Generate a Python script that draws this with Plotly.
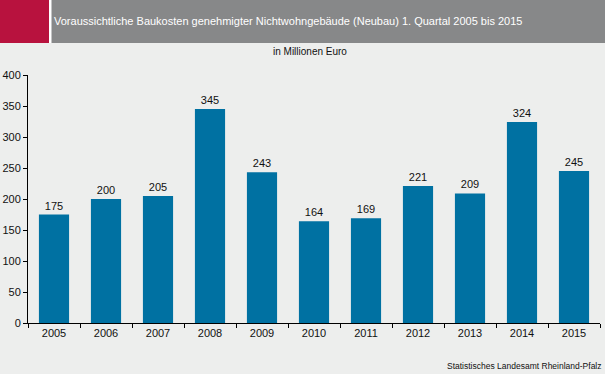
import plotly.graph_objects as go

years = ["2005", "2006", "2007", "2008", "2009", "2010", "2011", "2012", "2013", "2014", "2015"]
values = [175, 200, 205, 345, 243, 164, 169, 221, 209, 324, 245]
y_ticks = [0, 50, 100, 150, 200, 250, 300, 350, 400]

W, H = 605, 374
L, R, T, B = 28, 5, 75, 51
PW = W - L - R
PH = H - T - B


def px(x):
    return (x - L) / PW


def py(y):
    return (H - B - y) / PH


FONT = "Liberation Sans, Arial, sans-serif"
BG = "#EDEEED"

fig = go.Figure(
    go.Bar(
        x=years,
        y=values,
        marker=dict(color="#0071A2", line=dict(width=0)),
        width=0.58,
        text=[str(v) for v in values],
        textposition="outside",
        textfont=dict(family=FONT, size=11, color="#111111"),
        cliponaxis=False,
        hoverinfo="x+y",
    )
)

shapes = [
    dict(type="rect", xref="paper", yref="paper", x0=px(0), x1=px(W), y0=py(43), y1=py(0),
         fillcolor="#FFFFFF", line=dict(width=0), layer="below"),
    dict(type="rect", xref="paper", yref="paper", x0=px(0), x1=px(49), y0=py(43), y1=py(0),
         fillcolor="#B8123E", line=dict(width=0), layer="below"),
    dict(type="rect", xref="paper", yref="paper", x0=px(51.5), x1=px(W), y0=py(43), y1=py(0),
         fillcolor="#878889", line=dict(width=0), layer="below"),
]

annotations = [
    dict(text="Voraussichtliche Baukosten genehmigter Nichtwohngebäude (Neubau) 1. Quartal 2005 bis 2015",
         xref="paper", yref="paper", x=px(52), y=py(21.5), xanchor="left", yanchor="middle",
         showarrow=False, font=dict(family=FONT, size=11, color="#FFFFFF")),
    dict(text="in Millionen Euro", xref="paper", yref="paper", x=px(310), y=py(52),
         xanchor="center", yanchor="middle", showarrow=False,
         font=dict(family=FONT, size=10, color="#111111")),
    dict(text="Statistisches Landesamt Rheinland-Pfalz", xref="paper", yref="paper",
         x=px(604), y=py(366), xanchor="right", yanchor="middle", showarrow=False,
         font=dict(family=FONT, size=8.5, color="#111111")),
]

fig.update_layout(
    template="none",
    width=W,
    height=H,
    margin=dict(l=L, r=R, t=T, b=B, pad=0, autoexpand=False),
    paper_bgcolor=BG,
    plot_bgcolor=BG,
    showlegend=False,
    shapes=shapes,
    annotations=annotations,
    bargap=0.42,
    font=dict(family=FONT, size=11, color="#111111"),
    xaxis=dict(
        type="category", tickmode="linear", dtick=1,
        showline=True, linecolor="#000000", linewidth=1,
        ticks="outside", ticklen=4, tickcolor="#000000", tickwidth=1,
        tickson="boundaries", showgrid=False, zeroline=False, automargin=False,
        tickfont=dict(family=FONT, size=11, color="#111111"),
        fixedrange=True,
    ),
    yaxis=dict(
        range=[0, 400], tickvals=y_ticks, ticktext=[str(v) for v in y_ticks],
        showline=True, linecolor="#000000", linewidth=1,
        ticks="outside", ticklen=4, tickcolor="#000000", tickwidth=1,
        showgrid=False, zeroline=False, automargin=False,
        tickfont=dict(family=FONT, size=11, color="#111111"),
        fixedrange=True,
    ),
)

fig.write_html(
    "out.html",
    config={"displayModeBar": False},
    post_script="document.body.style.margin='0';document.body.style.padding='0';document.body.style.overflow='hidden';document.body.style.background='#EDEEED';",
)
